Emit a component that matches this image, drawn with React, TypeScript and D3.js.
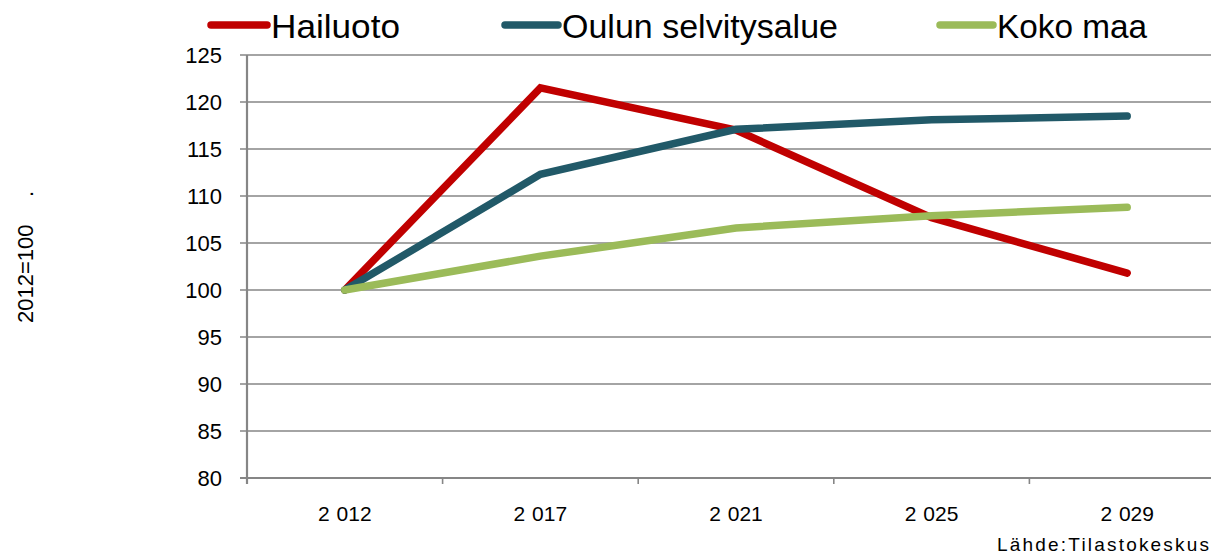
import React from "react";
import * as d3 from "d3";

const years = ["2 012", "2 017", "2 021", "2 025", "2 029"];
const hailuoto = [100, 121.5, 117.0, 107.7, 101.8];
const oulu = [100, 112.3, 117.1, 118.1, 118.5];
const koko = [100, 103.6, 106.6, 107.9, 108.8];
const yTicks = [80, 85, 90, 95, 100, 105, 110, 115, 120, 125];

const seriesNames = ["Hailuoto", "Oulun selvitysalue", "Koko maa"];
const colors = ["#C00000", "#215968", "#9BBB59"];

const W = 1211;
const H = 554;
const left = 247;
const band = 195.6;
const top = 55;
const bottom = 478;
const font = "'Liberation Sans', Arial, sans-serif";

export default function App() {
  const x = d3
    .scaleBand<string>()
    .domain(years)
    .range([left, left + band * years.length]);
  const y = d3.scaleLinear().domain([80, 125]).range([bottom, top]);
  const line = d3
    .line<number>()
    .x((_, i) => (x(years[i]) as number) + x.bandwidth() / 2)
    .y((d) => y(d));
  const data = [hailuoto, oulu, koko];
  const legendX = [
    { l0: 211, l1: 267, t: 271, w: 129 },
    { l0: 505, l1: 558, t: 562, w: 276 },
    { l0: 940, l1: 993, t: 997, w: 150 },
  ];
  const axisRight = left + band * years.length;
  return (
    <svg
      width={W}
      height={H}
      style={{ position: "absolute", left: 0, top: 0, background: "#fff" }}
    >
      {yTicks.map((t) => (
        <g key={t}>
          <line
            x1={240}
            x2={axisRight}
            y1={y(t)}
            y2={y(t)}
            stroke="#868686"
            strokeWidth={t === 80 ? 2.2 : 1.6}
          />
          <text
            x={222}
            y={y(t)}
            dy="0.35em"
            textAnchor="end"
            fontFamily={font}
            fontSize={22}
            fill="#000"
          >
            {t}
          </text>
        </g>
      ))}
      <line x1={left} x2={left} y1={top} y2={bottom + 6} stroke="#868686" strokeWidth={2.2} />
      {years.map((yr, i) => (
        <g key={yr}>
          <line
            x1={left + band * (i + 1)}
            x2={left + band * (i + 1)}
            y1={bottom}
            y2={bottom + 6}
            stroke="#868686"
            strokeWidth={1.6}
          />
          <text
            x={(x(yr) as number) + x.bandwidth() / 2}
            y={521}
            textAnchor="middle"
            fontFamily={font}
            fontSize={21}
            wordSpacing={1}
          >
            {yr}
          </text>
        </g>
      ))}
      {data.map((d, i) => (
        <path
          key={i}
          d={line(d) as string}
          fill="none"
          stroke={colors[i]}
          strokeWidth={7.5}
          strokeLinecap="round"
          strokeLinejoin="miter"
        />
      ))}
      {seriesNames.map((n, i) => (
        <g key={n}>
          <line
            x1={legendX[i].l0}
            x2={legendX[i].l1}
            y1={25}
            y2={25}
            stroke={colors[i]}
            strokeWidth={7.5}
            strokeLinecap="round"
          />
          <text
            x={legendX[i].t}
            y={38}
            fontFamily={font}
            fontSize={33}
            textLength={legendX[i].w}
            lengthAdjust="spacingAndGlyphs"
          >
            {n}
          </text>
        </g>
      ))}
      <text
        transform="translate(33,323) rotate(-90)"
        textAnchor="start"
        fontFamily={font}
        fontSize={22}
      >
        2012=100
      </text>
      <text
        transform="translate(33,197) rotate(-90)"
        textAnchor="start"
        fontFamily={font}
        fontSize={22}
      >
        .
      </text>
      <text
        x={997}
        y={551}
        fontFamily={font}
        fontSize={19}
        textLength={212}
        lengthAdjust="spacing"
      >
        Lähde:Tilastokeskus
      </text>
    </svg>
  );
}
